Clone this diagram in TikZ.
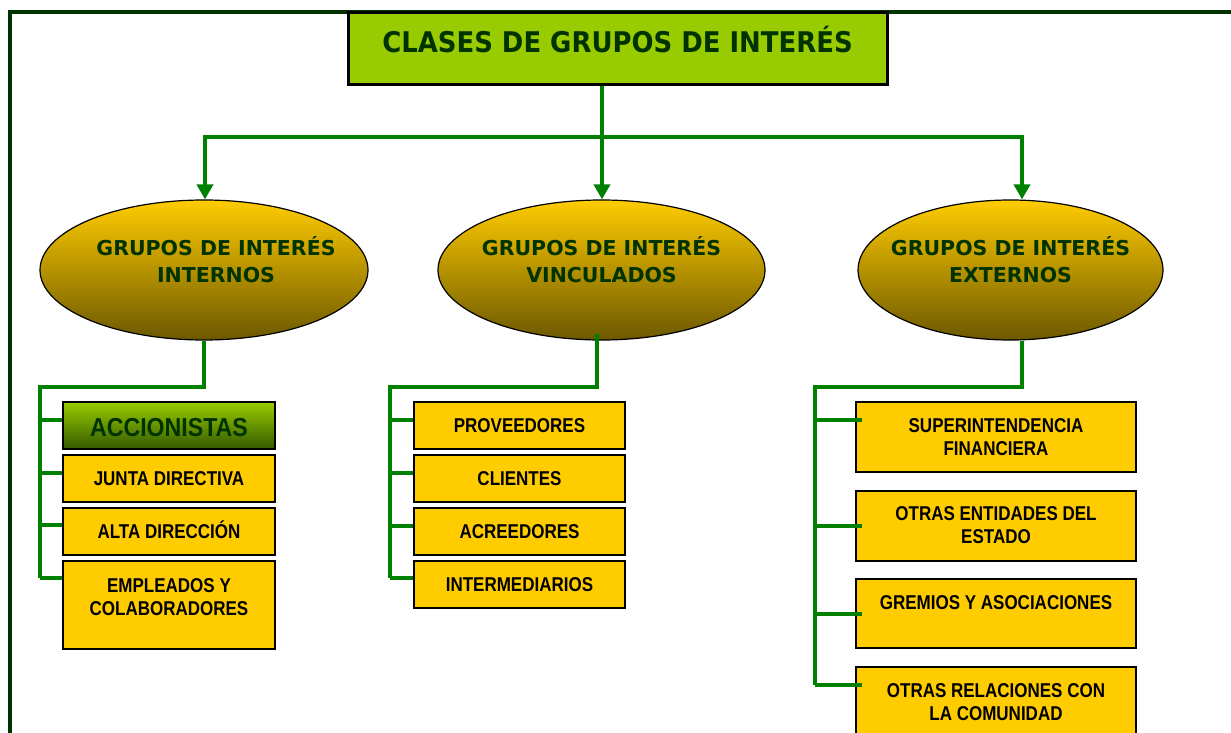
\documentclass[tikz,border=0pt]{standalone}
\usepackage{fontspec}
\usepackage{graphicx}
\usetikzlibrary{arrows.meta,shapes.geometric,calc}
\newfontfamily\dvs{DejaVu Sans}
\newfontfamily\lib{Liberation Sans}
\definecolor{cgreen}{RGB}{0,128,0}
\definecolor{dkgreen}{RGB}{0,51,0}
\definecolor{limeg}{RGB}{153,204,0}
\definecolor{goldy}{RGB}{255,204,0}
\definecolor{oliveb}{RGB}{108,88,0}
\definecolor{accbot}{RGB}{51,90,0}
% #1 horizontal pre-space (twice the shift), #2 raise, #3 xscale, #4 lines
\newcommand{\boxtext}[4][0pt]{\raisebox{#2}[0pt][0pt]{\makebox[0pt]{\hspace*{#1}\scalebox{#3}[1]{\begin{tabular}[t]{@{}c@{}}#4\end{tabular}}}}}
\begin{document}
\begin{tikzpicture}[x=1pt,y=-1pt,
  conn/.style={draw=cgreen,line width=4pt},
  arr/.style={conn,-{Triangle[width=16pt,length=15pt]}},
  framel/.style={draw=dkgreen,line width=3.5pt},
  titlebox/.style={rectangle,draw=black,line width=3pt,fill=limeg,inner sep=0pt,
    minimum width=539pt,minimum height=72pt,text=dkgreen,
    font=\dvs\bfseries\fontsize{28.5}{34}\selectfont},
  grp/.style={ellipse,draw=black,line width=1.2pt,top color=goldy,bottom color=oliveb,
    inner sep=0pt,minimum height=140pt,text=dkgreen,
    font=\dvs\bfseries\fontsize{20.5}{27}\selectfont},
  item/.style={rectangle,draw=black,line width=2pt,fill=goldy,inner sep=0pt,
    text=black,font=\lib\bfseries\fontsize{20}{23.5}\selectfont},
  accbox/.style={item,top color=limeg,bottom color=accbot,text=dkgreen,
    font=\lib\bfseries\fontsize{26}{30}\selectfont},
  leftcol/.style={minimum width=212pt},
  midcol/.style={minimum width=211pt},
  rightcol/.style={minimum width=280pt}
]
\useasboundingbox (0,0) rectangle (1231,733);
\fill[white] (0,0) rectangle (1231,733);
% frame
\draw[framel] (10,745) -- (10,12) -- (1245,12);

% title
\node[titlebox] (title) at (617.5,49) {\boxtext{-4pt}{0.91}{CLASES DE GRUPOS DE INTERÉS}};

% groups
\node[grp,minimum width=328pt] (e1) at (204,270) {\boxtext[24pt]{15pt}{1}{GRUPOS DE INTERÉS\\INTERNOS}};
\node[grp,minimum width=327pt] (e2) at (601.5,270) {\boxtext{15pt}{1}{GRUPOS DE INTERÉS\\VINCULADOS}};
\node[grp,minimum width=305pt] (e3) at (1010.5,270) {\boxtext{15pt}{1}{GRUPOS DE INTERÉS\\EXTERNOS}};

% left column
\node[accbox,leftcol,minimum height=47pt] (acc) at (169,425.5) {\boxtext{-11pt}{0.89}{ACCIONISTAS}};
\node[item,leftcol,minimum height=47pt] (jd) at (169,478.5) {\boxtext{-6.5pt}{0.85}{JUNTA DIRECTIVA}};
\node[item,leftcol,minimum height=47pt] (ad) at (169,531.5) {\boxtext{-7pt}{0.85}{ALTA DIRECCIÓN}};
\node[item,leftcol,minimum height=88pt] (emp) at (169,605) {\boxtext{13pt}{0.85}{EMPLEADOS Y\\COLABORADORES}};

% middle column
\node[item,midcol,minimum height=47pt] (prov) at (519.5,425.5) {\boxtext{-6.5pt}{0.85}{PROVEEDORES}};
\node[item,midcol,minimum height=47pt] (cli) at (519.5,478.5) {\boxtext{-6.5pt}{0.85}{CLIENTES}};
\node[item,midcol,minimum height=47pt] (acr) at (519.5,531.5) {\boxtext{-7pt}{0.85}{ACREEDORES}};
\node[item,midcol,minimum height=47pt] (int) at (519.5,584.5) {\boxtext{-7pt}{0.85}{INTERMEDIARIOS}};

% right column
\node[item,rightcol,minimum height=70pt] (sup) at (996,437) {\boxtext{5pt}{0.85}{SUPERINTENDENCIA\\FINANCIERA}};
\node[item,rightcol,minimum height=70pt] (ent) at (996,526) {\boxtext{6pt}{0.85}{OTRAS ENTIDADES DEL\\ESTADO}};
\node[item,rightcol,minimum height=69pt] (gre) at (996,613.5) {\boxtext{4.5pt}{0.85}{GREMIOS Y ASOCIACIONES}};
\node[item,rightcol,minimum height=70pt] (rel) at (996,702) {\boxtext{5pt}{0.85}{OTRAS RELACIONES CON\\LA COMUNIDAD}};

% top connectors
\coordinate (j0) at (602,137);
\coordinate (ja) at (205,137);
\coordinate (jc) at (1022,137);
\draw[arr] (title.south -| j0) -- (e2.north -| j0);
\draw[arr] (j0) -- (ja) -- (e1.north -| ja);
\draw[arr] (j0) -- (jc) -- (e3.north -| jc);

% left branch
\coordinate (b1) at (204,386.5);
\coordinate (b1l) at (40,386.5);
\coordinate (b1e) at (40,578);
\draw[conn] (e1.south) -- (b1) -- (b1l) -- (b1e);
\coordinate (k11) at (40,420);
\coordinate (k12) at (40,473);
\coordinate (k13) at (40,525);
\coordinate (k14) at (40,578);
\draw[conn] (k11) -- (k11 -| acc.west);
\draw[conn] (k12) -- (k12 -| jd.west);
\draw[conn] (k13) -- (k13 -| ad.west);
\draw[conn] (k14) -- (k14 -| emp.west);

% middle branch
\coordinate (b2) at (597,387);
\coordinate (b2l) at (390,387);
\coordinate (b2e) at (390,578);
\draw[conn] ($(e2.south -| b2)+(0,-7)$) -- (b2) -- (b2l) -- (b2e);
\coordinate (k21) at (390,420);
\coordinate (k22) at (390,473);
\coordinate (k23) at (390,526);
\coordinate (k24) at (390,578);
\draw[conn] (k21) -- (k21 -| prov.west);
\draw[conn] (k22) -- (k22 -| cli.west);
\draw[conn] (k23) -- (k23 -| acr.west);
\draw[conn] (k24) -- (k24 -| int.west);

% right branch
\coordinate (b3) at (1022,387);
\coordinate (b3l) at (815,387);
\coordinate (b3e) at (815,685);
\draw[conn] (e3.south -| b3) -- (b3) -- (b3l) -- (b3e);
\coordinate (k31) at (815,420);
\coordinate (k32) at (815,526);
\coordinate (k33) at (815,614);
\coordinate (k34) at (815,685);
\draw[conn] (k31) -- ($(k31 -| sup.west)+(7,0)$);
\draw[conn] (k32) -- ($(k32 -| ent.west)+(7,0)$);
\draw[conn] (k33) -- ($(k33 -| gre.west)+(7,0)$);
\draw[conn] (k34) -- ($(k34 -| rel.west)+(7,0)$);
\end{tikzpicture}
\end{document}
